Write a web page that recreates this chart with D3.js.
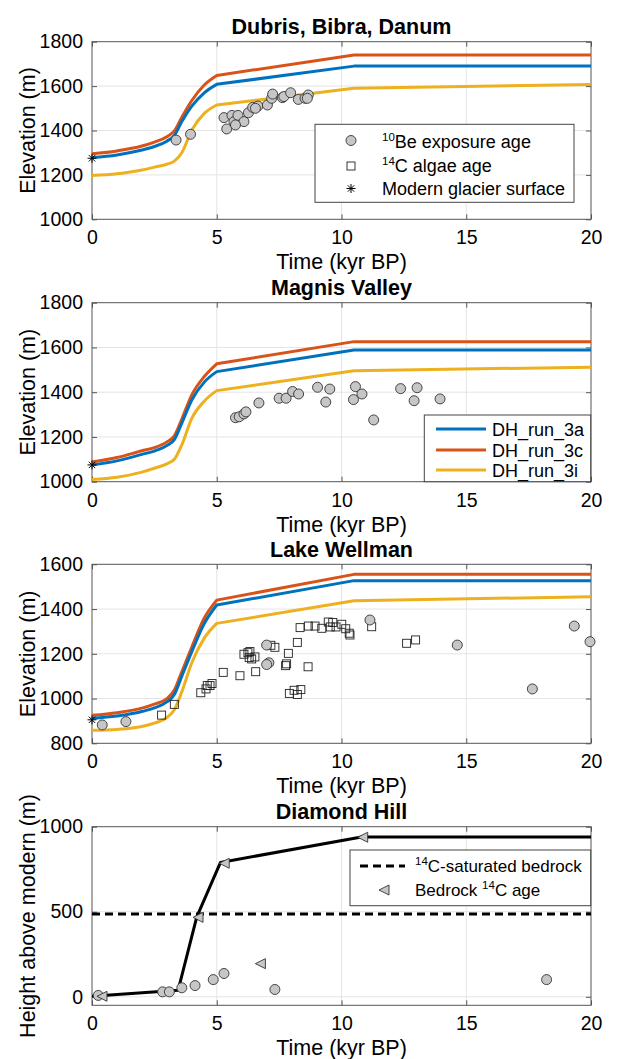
<!DOCTYPE html>
<html><head><meta charset="utf-8">
<script src="https://cdn.jsdelivr.net/npm/d3@7"></script>
<style>
body{margin:0;background:#fff}
text{font-family:"Liberation Sans",Arial,Helvetica,sans-serif;fill:#000}
</style>
</head><body>
<svg id="c" width="619" height="1059"></svg>
<script>
// ---------- data ----------
const xTicks = [0, 5, 10, 15, 20];
const modelTimes = [0, 1, 2, 2.5, 3, 3.3, 3.6, 4, 4.5, 5, 10.5, 20];
const runNames = ["DH_run_3a", "DH_run_3c", "DH_run_3i"];
const runColors = ["#0072BD", "#D95319", "#EDB120"];

// Dubris, Bibra, Danum
const dbd_run3a = [1278, 1290, 1312, 1328, 1352, 1378, 1440, 1510, 1570, 1608, 1690, 1690];
const dbd_run3c = [1295, 1308, 1330, 1348, 1372, 1398, 1460, 1535, 1605, 1648, 1740, 1740];
const dbd_run3i = [1197, 1205, 1222, 1235, 1248, 1262, 1300, 1402, 1477, 1515, 1590, 1607];
const dbd_beAge  = [3.37, 3.95, 5.29, 5.40, 5.61, 5.69, 5.85, 6.09, 6.27, 6.44, 6.65, 7.03, 7.20, 7.24, 7.63, 7.69, 7.96, 8.27, 8.54, 8.67, 8.63, 5.75, 6.55];
const dbd_beElev = [1357, 1383, 1458, 1407, 1468, 1440, 1468, 1440, 1480, 1504, 1510, 1515, 1545, 1564, 1548, 1553, 1570, 1540, 1545, 1560, 1545, 1425, 1500];
const dbd_modern = 1275;

// Magnis Valley
const mv_run3a = [1075, 1093, 1122, 1137, 1162, 1188, 1262, 1365, 1445, 1492, 1589, 1589];
const mv_run3c = [1088, 1108, 1138, 1152, 1178, 1205, 1280, 1388, 1470, 1527, 1626, 1626];
const mv_run3i = [1010, 1020, 1043, 1060, 1080, 1100, 1165, 1283, 1360, 1407, 1496, 1512];
const mv_beAge  = [5.75, 5.90, 6.09, 6.17, 6.69, 7.50, 7.78, 8.04, 8.28, 9.04, 9.37, 9.53, 10.48, 10.56, 10.82, 11.29, 12.37, 12.91, 13.03, 13.95];
const mv_beElev = [1286, 1290, 1303, 1312, 1352, 1373, 1373, 1403, 1392, 1422, 1356, 1414, 1367, 1425, 1392, 1276, 1416, 1362, 1420, 1370];
const mv_modern = 1075;

// Lake Wellman
const lw_run3a = [912, 922, 942, 958, 985, 1018, 1100, 1210, 1335, 1418, 1527, 1527];
const lw_run3c = [925, 937, 957, 975, 1000, 1038, 1120, 1230, 1360, 1440, 1555, 1555];
const lw_run3i = [858, 862, 875, 890, 915, 950, 1030, 1160, 1270, 1336, 1437, 1455];
const lw_beAge  = [0.41, 1.36, 7.00, 7.09, 7.00, 11.14, 14.64, 17.65, 19.33, 19.96];
const lw_beElev = [882, 897, 1239, 1160, 1152, 1351, 1239, 1043, 1324, 1254];
const lw_cAge  = [2.79, 3.30, 4.36, 4.57, 4.62, 4.73, 4.81, 5.26, 5.93, 6.09, 6.25, 6.33, 6.30, 6.40, 6.53, 6.56, 7.17, 7.33, 7.76, 7.80, 7.87, 7.91, 8.10, 8.23, 8.37, 8.23, 8.34, 8.66, 8.67, 8.94, 9.21, 9.47, 9.55, 9.65, 9.78, 10.01, 10.17, 10.31, 10.34, 11.21, 12.61, 12.97];
const lw_cElev = [926, 974, 1026, 1043, 1058, 1058, 1067, 1117, 1102, 1198, 1205, 1210, 1183, 1177, 1186, 1120, 1238, 1229, 1147, 1155, 1202, 1023, 1037, 1018, 1040, 1251, 1317, 1142, 1324, 1324, 1314, 1342, 1320, 1340, 1320, 1332, 1312, 1292, 1284, 1321, 1247, 1262];
const lw_modern = 905;

// Diamond Hill
const dh_beAge    = [0.25, 2.83, 3.10, 3.60, 4.13, 4.86, 5.29, 7.33, 18.22];
const dh_beHeight = [8, 29, 29, 53, 66, 101, 137, 43, 101];
const dh_cAge     = [0.40, 4.25, 5.30, 6.75, 10.85];
const dh_cHeight  = [3, 467, 785, 195, 938];
const dh_lineAge    = [0, 3.45, 4.20, 5.15, 10.80, 20];
const dh_lineHeight = [3, 38, 470, 790, 940, 940];
const dh_saturated = 487;

// ---------- layout ----------
const X0 = 92, X1 = 591;
const svg = d3.select("#c");
const AX = "#555";
const MK_FILL = "#c6c6c6", MK_STROKE = "#333";
const TICK_FS = "19.5px", LABEL_FS = "21.5px", TITLE_FS = "21.5px", LEG_FS = "18px", SUP_FS = "11.5px";

const zip = (a, b) => a.map((v, i) => [v, b[i]]);

function starPath(s) {
  const r = s / 2, d = r * 0.7071;
  return `M${-r},0L${r},0M0,${-r}L0,${r}M${-d},${-d}L${d},${d}M${-d},${d}L${d},${-d}`;
}
function triLeft(s) {
  const h = s / 2;
  return `M${-h},0L${h},${-h}L${h},${h}Z`;
}

function drawCircles(g, pts, x, y) {
  g.selectAll(null).data(pts).join("circle")
    .attr("cx", d => x(d[0])).attr("cy", d => y(d[1])).attr("r", 5)
    .attr("fill", MK_FILL).attr("stroke", MK_STROKE).attr("stroke-width", 0.9);
}
function drawSquares(g, pts, x, y) {
  g.selectAll(null).data(pts).join("rect")
    .attr("x", d => x(d[0]) - 4).attr("y", d => y(d[1]) - 4)
    .attr("width", 8).attr("height", 8)
    .attr("fill", "none").attr("stroke", "#222").attr("stroke-width", 0.9);
}

function makePanel(p) {
  const x = d3.scaleLinear().domain([0, 20]).range([X0, X1]);
  const y = d3.scaleLinear().domain(p.yDomain).range([p.bottom, p.top]);
  const g = svg.append("g");
  const H = p.bottom - p.top;

  // grid
  g.selectAll(null).data(xTicks.filter(v => v > 0 && v < 20)).join("line")
    .attr("x1", d => x(d)).attr("x2", d => x(d)).attr("y1", p.top).attr("y2", p.bottom)
    .attr("stroke", "#e4e4e4").attr("stroke-width", 1);
  g.selectAll(null).data(p.yTicks.filter(v => y(v) > p.top + 1 && y(v) < p.bottom - 1)).join("line")
    .attr("x1", X0).attr("x2", X1).attr("y1", d => y(d)).attr("y2", d => y(d))
    .attr("stroke", "#e4e4e4").attr("stroke-width", 1);

  // axes
  const styleAx = sel => {
    sel.select(".domain").remove();
    sel.selectAll(".tick line").attr("stroke", AX);
    sel.selectAll(".tick text").style("font-size", TICK_FS)
      .style("font-family", '"Liberation Sans",Arial,sans-serif').attr("fill", "#000");
  };
  g.append("g").attr("transform", `translate(0,${p.bottom})`)
    .call(d3.axisBottom(x).tickValues(xTicks).tickFormat(d3.format("d")).tickSize(-5).tickPadding(11))
    .call(styleAx);
  g.append("g").attr("transform", `translate(${X0},0)`)
    .call(d3.axisLeft(y).tickValues(p.yTicks).tickFormat(d3.format("d")).tickSize(-5).tickPadding(9))
    .call(styleAx);
  g.append("g").attr("transform", `translate(0,${p.top})`)
    .call(d3.axisTop(x).tickValues(xTicks).tickFormat("").tickSize(-5)).call(styleAx);
  g.append("g").attr("transform", `translate(${X1},0)`)
    .call(d3.axisRight(y).tickValues(p.yTicks).tickFormat("").tickSize(-5)).call(styleAx);

  g.append("rect").attr("x", X0).attr("y", p.top).attr("width", X1 - X0).attr("height", H)
    .attr("fill", "none").attr("stroke", AX).attr("stroke-width", 1);

  // titles and labels
  svg.append("text").attr("x", (X0 + X1) / 2).attr("y", p.top - 7.5)
    .attr("text-anchor", "middle").style("font-size", TITLE_FS).style("font-weight", "bold").text(p.title);
  svg.append("text").attr("x", (X0 + X1) / 2).attr("y", p.bottom + 50)
    .attr("text-anchor", "middle").style("font-size", LABEL_FS).text("Time (kyr BP)");
  svg.append("text").attr("transform", `translate(35,${(p.top + p.bottom) / 2}) rotate(-90)`)
    .attr("text-anchor", "middle").style("font-size", LABEL_FS).text(p.ylabel);

  return { g, x, y };
}

function modelLines(g, x, y, runs) {
  const k = modelTimes.indexOf(5);
  const smooth = d3.line().x(d => x(d[0])).y(d => y(d[1])).curve(d3.curveMonotoneX);
  const straight = d3.line().x(d => x(d[0])).y(d => y(d[1]));
  [2, 1, 0].forEach(i => {
    const pts = zip(modelTimes, runs[i]);
    const dPath = smooth(pts.slice(0, k + 1)) + straight(pts.slice(k)).replace(/^M/, "L");
    g.append("path").attr("d", dPath)
      .attr("fill", "none").attr("stroke", runColors[i]).attr("stroke-width", 3)
      .attr("stroke-linejoin", "round");
  });
}
function modernStar(g, x, y, v) {
  g.append("path").attr("transform", `translate(${x(0)},${y(v)})`).attr("d", starPath(9))
    .attr("stroke", "#000").attr("stroke-width", 1).attr("fill", "none");
}
function legendBox(g, x0, y0, w, h) {
  g.append("rect").attr("x", x0).attr("y", y0).attr("width", w).attr("height", h)
    .attr("fill", "#fff").attr("stroke", "#444").attr("stroke-width", 1);
}
function legText(g, x0, y0, parts, fs) {
  const t = g.append("text").attr("x", x0).attr("y", y0).style("font-size", fs || LEG_FS);
  let raised = false;
  parts.forEach(([s, sup]) => {
    if (sup) { t.append("tspan").attr("dy", raised ? 0 : -7).style("font-size", SUP_FS).text(s); raised = true; }
    else { t.append("tspan").attr("dy", raised ? 7 : 0).text(s); raised = false; }
  });
  return t;
}

// ---------- Panel 1 ----------
{
  const { g, x, y } = makePanel({ title: "Dubris, Bibra, Danum", top: 41.7, bottom: 219.3,
    yDomain: [1000, 1800], yTicks: [1000, 1200, 1400, 1600, 1800], ylabel: "Elevation (m)" });
  modelLines(g, x, y, [dbd_run3a, dbd_run3c, dbd_run3i]);
  drawCircles(g, zip(dbd_beAge, dbd_beElev), x, y);
  modernStar(g, x, y, dbd_modern);
  legendBox(g, 315, 124.3, 259, 78);
  g.append("circle").attr("cx", 351).attr("cy", 140.5).attr("r", 5).attr("fill", MK_FILL).attr("stroke", MK_STROKE).attr("stroke-width", 0.9);
  g.append("rect").attr("x", 347).attr("y", 162).attr("width", 8).attr("height", 8).attr("fill", "none").attr("stroke", "#222").attr("stroke-width", 0.9);
  g.append("path").attr("transform", "translate(351,188.5)").attr("d", starPath(9)).attr("stroke", "#000").attr("fill", "none");
  legText(g, 382, 147.5, [["10", true], ["Be exposure age", false]]);
  legText(g, 382, 172, [["14", true], ["C algae age", false]]);
  legText(g, 382, 194.5, [["Modern glacier surface", false]]);
}

// ---------- Panel 2 ----------
{
  const { g, x, y } = makePanel({ title: "Magnis Valley", top: 302.7, bottom: 481.7,
    yDomain: [1000, 1800], yTicks: [1000, 1200, 1400, 1600, 1800], ylabel: "Elevation (m)" });
  modelLines(g, x, y, [mv_run3a, mv_run3c, mv_run3i]);
  drawCircles(g, zip(mv_beAge, mv_beElev), x, y);
  modernStar(g, x, y, mv_modern);
  legendBox(g, 424.3, 415, 166.4, 66.7);
  const rows = [429, 450, 470];
  runNames.forEach((n, i) => {
    g.append("line").attr("x1", 436).attr("x2", 486).attr("y1", rows[i]).attr("y2", rows[i])
      .attr("stroke", runColors[i]).attr("stroke-width", 3);
    legText(g, 492, rows[i] + 6.5, [[n, false]]);
  });
}

// ---------- Panel 3 ----------
{
  const { g, x, y } = makePanel({ title: "Lake Wellman", top: 564.3, bottom: 743.3,
    yDomain: [800, 1600], yTicks: [800, 1000, 1200, 1400, 1600], ylabel: "Elevation (m)" });
  modelLines(g, x, y, [lw_run3a, lw_run3c, lw_run3i]);
  drawSquares(g, zip(lw_cAge, lw_cElev), x, y);
  drawCircles(g, zip(lw_beAge, lw_beElev), x, y);
  modernStar(g, x, y, lw_modern);
}

// ---------- Panel 4 ----------
{
  const { g, x, y } = makePanel({ title: "Diamond Hill", top: 826.7, bottom: 1005.3,
    yDomain: [-50, 1000], yTicks: [0, 500, 1000], ylabel: "Height above modern (m)" });
  g.append("line").attr("x1", X0).attr("x2", X1).attr("y1", y(dh_saturated)).attr("y2", y(dh_saturated))
    .attr("stroke", "#000").attr("stroke-width", 3).attr("stroke-dasharray", "8,5");
  const line = d3.line().x(d => x(d[0])).y(d => y(d[1]));
  g.append("path").datum(zip(dh_lineAge, dh_lineHeight)).attr("d", line)
    .attr("fill", "none").attr("stroke", "#000").attr("stroke-width", 3).attr("stroke-linejoin", "round");
  drawCircles(g, zip(dh_beAge, dh_beHeight), x, y);
  g.selectAll(null).data(zip(dh_cAge, dh_cHeight)).join("path")
    .attr("transform", d => `translate(${x(d[0])},${y(d[1])})`).attr("d", triLeft(10))
    .attr("fill", MK_FILL).attr("stroke", MK_STROKE).attr("stroke-width", 0.9);
  legendBox(g, 350, 850, 240.7, 55.7);
  g.append("line").attr("x1", 360).attr("x2", 405).attr("y1", 866).attr("y2", 866)
    .attr("stroke", "#000").attr("stroke-width", 3).attr("stroke-dasharray", "8,5");
  legText(g, 415, 872, [["14", true], ["C-saturated bedrock", false]], "17px");
  g.append("path").attr("transform", "translate(384,890)").attr("d", triLeft(10))
    .attr("fill", MK_FILL).attr("stroke", MK_STROKE).attr("stroke-width", 0.9);
  legText(g, 415, 896, [["Bedrock ", false], ["14", true], ["C age", false]], "17px");
}
</script>
</body></html>
